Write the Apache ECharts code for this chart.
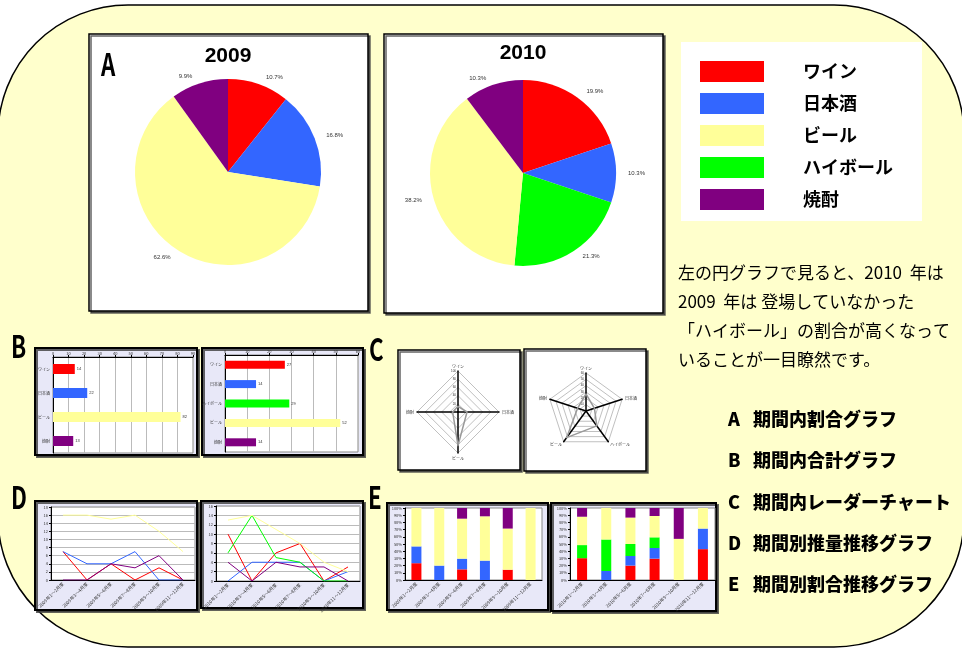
<!DOCTYPE html>
<html>
<head>
<meta charset="utf-8">
<title>お酒の割合グラフ</title>
<script src="https://cdn.jsdelivr.net/npm/echarts@6/dist/echarts.min.js"></script>
<style>
html, body { margin: 0; padding: 0; background: #fff; }
#main { width: 962px; height: 652px; }
</style>
</head>
<body>
<div id="main"></div>
<script>
var JP = '"Noto Sans CJK JP", "Noto Sans", sans-serif';

// カテゴリ
var drinks2009 = ['ワイン', '日本酒', 'ビール', '焼酎'];
var drinks2010 = ['ワイン', '日本酒', 'ハイボール', 'ビール', '焼酎'];
var legendNames = ['ワイン', '日本酒', 'ビール', 'ハイボール', '焼酎'];

// 期間内合計 (B, A)
var total2009 = [14, 22, 82, 13];
var total2010 = [27, 14, 29, 52, 14];

// 期間
var periods2009 = ['2009年1～2月度', '2009年3～4月度', '2009年5～6月度', '2009年7～8月度', '2009年9～10月度', '2009年11～12月度'];
var periods2010 = ['2010年1～2月度', '2010年3～4月度', '2010年5～6月度', '2010年7～8月度', '2010年9～10月度', '2010年11～12月度'];

// 期間別推量 (D)
var wine2009 = [7, 0, 4, 0, 3, 0];
var sake2009 = [7, 4, 4, 7, 0, 0];
var beer2009 = [16, 16, 15, 16, 12, 7];
var shochu2009 = [0, 0, 4, 3, 6, 0];

var wine2010 = [10, 0, 6, 8, 0, 3];
var sake2010 = [0, 4, 4, 4, 0, 2];
var highball2010 = [6, 14, 5, 4, 0, 0];
var beer2010 = [13, 14, 11, 8, 4, 2];
var shochu2010 = [4, 0, 4, 3, 3, 0];

// 軸目盛
var bMax2009 = 90, bMax2010 = 60;
var dMax2009 = 18, dMax2010 = 16;
var radarMax2009 = 100, radarMax2010 = 60;

var colors = {
    'ワイン': '#FF0000',
    '日本酒': '#3366FF',
    'ビール': '#FFFF99',
    'ハイボール': '#00FF00',
    '焼酎': '#800080'
};

var series2009 = { 'ワイン': wine2009, '日本酒': sake2009, 'ビール': beer2009, '焼酎': shochu2009 };
var series2010 = { 'ワイン': wine2010, '日本酒': sake2010, 'ハイボール': highball2010, 'ビール': beer2010, '焼酎': shochu2010 };

var tiny = { fontSize: 4, color: '#333', fontFamily: JP };
var tinyRot = { fontSize: 4.6, color: '#333', fontFamily: JP, rotate: 45, interval: 0, margin: 3 };

var myChart = echarts.init(document.getElementById('main'));

function pieSeries(name, center, names, values) {
    return {
        type: 'pie',
        name: name,
        center: center,
        radius: 93,
        startAngle: 90,
        percentPrecision: 1,
        silent: true,
        data: names.map(function (n, i) {
            return { name: n, value: values[i], itemStyle: { color: colors[n] } };
        }),
        label: { show: true, position: 'outside', formatter: '{d}%', fontSize: 6, color: '#333', fontFamily: 'Liberation Sans' },
        labelLine: { show: false, length: 7, length2: 0 }
    };
}

function shareOf(table, names, n) {
    // 期間ごとの構成比 (%)
    return table[n].map(function (v, i) {
        var sum = 0;
        names.forEach(function (k) { sum += table[k][i]; });
        return sum ? v / sum * 100 : 0;
    });
}

var grids = [
    { left: 53, top: 357, width: 140, height: 96 },   // B 2009
    { left: 225, top: 355, width: 133, height: 97 },  // B 2010
    { left: 51, top: 507, width: 144, height: 73 },   // D 2009
    { left: 216, top: 506, width: 144, height: 75 },  // D 2010
    { left: 405, top: 508, width: 137, height: 72 },  // E 2009
    { left: 570, top: 508, width: 145, height: 72 }   // E 2010
].map(function (g) {
    g.show = true;
    g.backgroundColor = '#fff';
    g.borderColor = '#888';
    g.borderWidth = 1;
    return g;
});

var blackLine = { show: true, lineStyle: { color: '#000', width: 1 } };
var greySplit = { show: true, lineStyle: { color: '#bbb', width: 1 } };

var xAxes = [
    { type: 'value', gridIndex: 0, position: 'top', min: 0, max: bMax2009, interval: 10, axisLabel: Object.assign({ margin: 2 }, tiny), axisLine: blackLine, axisTick: { show: true, length: 2 }, splitLine: greySplit },
    { type: 'value', gridIndex: 1, position: 'top', min: 0, max: bMax2010, interval: 10, axisLabel: Object.assign({ margin: 2 }, tiny), axisLine: blackLine, axisTick: { show: true, length: 2 }, splitLine: greySplit },
    { type: 'category', gridIndex: 2, data: periods2009, axisLabel: tinyRot, axisLine: blackLine, axisTick: { length: 2 } },
    { type: 'category', gridIndex: 3, data: periods2010, axisLabel: tinyRot, axisLine: blackLine, axisTick: { length: 2 } },
    { type: 'category', gridIndex: 4, data: periods2009, axisLabel: tinyRot, axisLine: blackLine, axisTick: { length: 2 } },
    { type: 'category', gridIndex: 5, data: periods2010, axisLabel: tinyRot, axisLine: blackLine, axisTick: { length: 2 } }
];

var yAxes = [
    { type: 'category', gridIndex: 0, inverse: true, data: drinks2009, axisLabel: Object.assign({ margin: 3 }, tiny), axisLine: blackLine, axisTick: { length: 2 } },
    { type: 'category', gridIndex: 1, inverse: true, data: drinks2010, axisLabel: Object.assign({ margin: 3 }, tiny), axisLine: blackLine, axisTick: { length: 2 } },
    { type: 'value', gridIndex: 2, min: 0, max: dMax2009, interval: 2, axisLabel: Object.assign({ margin: 3 }, tiny), axisLine: blackLine, axisTick: { show: true, length: 2 }, splitLine: greySplit },
    { type: 'value', gridIndex: 3, min: 0, max: dMax2010, interval: 2, axisLabel: Object.assign({ margin: 3 }, tiny), axisLine: blackLine, axisTick: { show: true, length: 2 }, splitLine: greySplit },
    { type: 'value', gridIndex: 4, min: 0, max: 100, interval: 10, axisLabel: Object.assign({ margin: 3, formatter: '{value}%' }, tiny), axisLine: blackLine, axisTick: { show: true, length: 2 }, splitLine: { show: false } },
    { type: 'value', gridIndex: 5, min: 0, max: 100, interval: 10, axisLabel: Object.assign({ margin: 3, formatter: '{value}%' }, tiny), axisLine: blackLine, axisTick: { show: true, length: 2 }, splitLine: { show: false } }
];

var series = [
    pieSeries('2009', [228, 172], drinks2009, total2009),
    pieSeries('2010', [523, 173], drinks2010, total2010)
];

// B 期間内合計
[[drinks2009, total2009, 0, 10], [drinks2010, total2010, 1, 8]].forEach(function (b) {
    series.push({
        type: 'bar', name: '合計', xAxisIndex: b[2], yAxisIndex: b[2], barWidth: b[3], silent: true,
        data: b[1].map(function (v, i) { return { value: v, itemStyle: { color: colors[b[0][i]] } }; }),
        label: { show: true, position: 'right', distance: 2, fontSize: 4, color: '#333' }
    });
});

// D 推移 と E 割合
[[drinks2009, series2009, 2, 4, 'e2009'], [drinks2010, series2010, 3, 5, 'e2010']].forEach(function (d) {
    d[0].forEach(function (n) {
        series.push({
            type: 'line', name: n, xAxisIndex: d[2], yAxisIndex: d[2], data: d[1][n],
            showSymbol: false, symbol: 'none', silent: true,
            lineStyle: { color: colors[n], width: 1 }, itemStyle: { color: colors[n] }
        });
    });
    // 積み上げ順: ワイン, 日本酒, ハイボール, ビール, 焼酎
    d[0].forEach(function (n) {
        series.push({
            type: 'bar', name: n, stack: d[4], xAxisIndex: d[3], yAxisIndex: d[3], barWidth: 10, silent: true,
            data: shareOf(d[1], d[0], n), itemStyle: { color: colors[n] }
        });
    });
});

// C レーダー (反時計回りに並べる)
var order2009 = [0, 3, 2, 1];
var order2010 = [0, 4, 3, 2, 1];
var radars = [
    { center: [458, 412], radius: 41, names: drinks2009, order: order2009, max: radarMax2009, split: 5 },
    { center: [586, 411], radius: 38, names: drinks2010, order: order2010, max: radarMax2010, split: 6 }
];
var radarOpts = radars.map(function (r) {
    return {
        center: r.center, radius: r.radius, shape: 'polygon', splitNumber: r.split, startAngle: 90,
        indicator: r.order.map(function (k, j) {
            var ind = { name: r.names[k], max: r.max, min: 0 };
            if (j === 0) ind.axisLabel = { show: true, fontSize: 3, color: '#333', margin: 2 };
            return ind;
        }),
        axisName: { fontSize: 4, color: '#333', fontFamily: JP },
        nameGap: 3,
        axisLine: { lineStyle: { color: '#000', width: 1.5 } },
        splitLine: { lineStyle: { color: '#c0c0c0', width: 1 } },
        splitArea: { show: false },
        axisTick: { show: false },
        axisLabel: { show: false }
    };
});
[[total2009, order2009], [total2010, order2010]].forEach(function (c, idx) {
    series.push({
        type: 'radar', radarIndex: idx, silent: true, symbol: 'none',
        lineStyle: { color: '#999', width: 1.5 },
        data: [{ value: c[1].map(function (k) { return c[0][k]; }), name: '合計',
            label: { show: true, fontSize: 4, color: '#ff3333', distance: 2 } }]
    });
});

function box(x, y, w, h, fill, lw, shadow) {
    return {
        type: 'rect', z: -10, silent: true,
        shape: { x: x, y: y, width: w, height: h },
        style: {
            fill: fill, stroke: '#000', lineWidth: lw,
            shadowColor: shadow ? 'rgba(60,60,60,0.8)' : 'rgba(0,0,0,0)', shadowBlur: 0,
            shadowOffsetX: shadow ? 2 : 0, shadowOffsetY: shadow ? 2 : 0
        }
    };
}

function txt(s, x, y, font, align) {
    return {
        type: 'text', z: 50, silent: true,
        style: { text: s, x: x, y: y, font: font, fill: '#000', textAlign: align || 'left', textVerticalAlign: 'middle' }
    };
}

function letter(s, x, y) {
    var t = txt(s, 0, 0, 'bold 31px ' + JP, 'left');
    t.x = x; t.y = y; t.scaleX = 0.72;
    return t;
}

var lavender = '#E8E8F8';
var paraFont = '17px ' + JP;
var listFont = '900 18px ' + JP;

var graphics = [
    { type: 'rect', z: -20, silent: true, shape: { x: -2, y: 5, width: 966, height: 642, r: 130 }, style: { fill: '#FFFFCC', stroke: '#000', lineWidth: 1.5 } },
    box(89, 34, 279, 277, '#fff', 1.5, true),
    box(384, 34, 279, 279, '#fff', 1.5, true),
    { type: 'rect', z: -10, silent: true, shape: { x: 681, y: 42, width: 241, height: 179 }, style: { fill: '#fff' } },
    box(35, 348, 162, 107, lavender, 2, true),
    box(202, 348, 161, 107, lavender, 2, true),
    box(398, 350, 122, 120, '#fff', 1.5, true),
    box(524, 349, 122, 122, '#fff', 1.5, true),
    box(35, 501, 162, 109, lavender, 2, true),
    box(201, 501, 162, 107, lavender, 2, true),
    box(387, 503, 161, 107, lavender, 2, true),
    box(551, 503, 165, 108, lavender, 2, true),
    letter('A', 101, 64),
    letter('B', 11, 346),
    letter('C', 369, 349),
    letter('D', 11, 497),
    letter('E', 368, 497),
    txt('2009', 228, 56, 'bold 21px "Liberation Sans", Arial, sans-serif', 'center'),
    txt('2010', 523, 53, 'bold 21px "Liberation Sans", Arial, sans-serif', 'center'),
    txt('左の円グラフで見ると、2010  年は', 678, 273, paraFont),
    txt('2009  年は 登場していなかった', 678, 302, paraFont),
    txt('「ハイボール」の割合が高くなって', 678, 331, paraFont),
    txt('いることが一目瞭然です。', 678, 360, paraFont),
    txt('A', 728, 419, listFont),
    txt('期間内割合グラフ', 753, 419, listFont),
    txt('B', 728, 460, listFont),
    txt('期間内合計グラフ', 753, 460, listFont),
    txt('C', 728, 502, listFont),
    txt('期間内レーダーチャート', 753, 502, listFont),
    txt('D', 728, 543, listFont),
    txt('期間別推量推移グラフ', 753, 543, listFont),
    txt('E', 728, 584, listFont),
    txt('期間別割合推移グラフ', 753, 584, listFont)
];

var option = {
    backgroundColor: '#fff',
    animation: false,
    legend: {
        orient: 'vertical', left: 695, top: 56,
        itemWidth: 64, itemHeight: 21, itemGap: 11,
        icon: 'rect', selectedMode: false,
        data: legendNames.map(function (n) { return { name: n, icon: 'rect', itemStyle: { color: colors[n] } }; }),
        textStyle: { fontSize: 18, fontWeight: 'bold', color: '#000', fontFamily: JP, padding: [0, 0, 0, 34] }
    },
    grid: grids,
    xAxis: xAxes,
    yAxis: yAxes,
    radar: radarOpts,
    graphic: { elements: graphics },
    series: series
};

myChart.setOption(option);
</script>
</body>
</html>
